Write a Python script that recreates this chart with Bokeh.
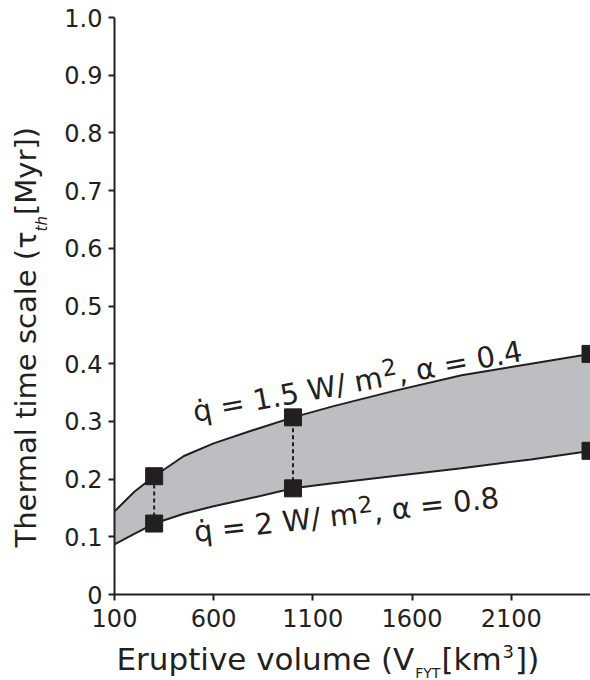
import math
from bokeh.plotting import figure
from bokeh.models import Label, FixedTicker, Range1d
from bokeh.layouts import row, column
from bokeh.embed import file_html
from bokeh.resources import INLINE

# ---- data ----
volume = [100, 200, 300, 450, 600, 800, 1000, 1200, 1500, 1850, 2200, 2500]
tau_upper = [0.144, 0.178, 0.205, 0.240, 0.262, 0.285, 0.307, 0.326, 0.352, 0.380, 0.400, 0.417]
tau_lower = [0.087, 0.105, 0.123, 0.140, 0.153, 0.168, 0.184, 0.193, 0.205, 0.219, 0.234, 0.249]
marker_volume = [300, 1000, 2500]
marker_upper = [0.205, 0.307, 0.417]
marker_lower = [0.123, 0.184, 0.249]
x_ticks = [100, 600, 1100, 1600, 2100]
y_ticks = [0, 0.1, 0.2, 0.3, 0.4, 0.5, 0.6, 0.7, 0.8, 0.9, 1.0]
y_tick_labels = ["0", "0.1", "0.2", "0.3", "0.4", "0.5", "0.6", "0.7", "0.8", "0.9", "1.0"]

INK = "#231f20"
BAND = "#bdbec1"
FONT = "DejaVu Sans"

# overall page geometry (pixels)
PAGE_W, PAGE_H = 590, 680
YT_W = 50             # strip on the left for the y title
XT_H = 40             # strip at the bottom for the x title
FL, FR, FT, FB = 114, 590, 17, 594   # plot frame in page pixels
X0, X1 = 100, 2500
Y0, Y1 = 0.0, 1.0
BASE_FIX = 0.43       # label anchor -> baseline correction, in em

main_w = PAGE_W - YT_W
main_h = PAGE_H - XT_H

p = figure(width=main_w, height=main_h, x_range=Range1d(X0, X1), y_range=Range1d(Y0, Y1),
           output_backend="svg", toolbar_location=None, title=None,
           min_border_left=FL - YT_W, min_border_right=PAGE_W - FR,
           min_border_top=FT, min_border_bottom=main_h - FB)
p.outline_line_color = None
p.grid.visible = False

p.varea(x=volume, y1=tau_lower, y2=tau_upper, fill_color=BAND)
p.line(volume, tau_upper, line_color=INK, line_width=2)
p.line(volume, tau_lower, line_color=INK, line_width=2)
p.segment(x0=marker_volume[:2], y0=marker_lower[:2], x1=marker_volume[:2], y1=marker_upper[:2],
          line_color=INK, line_width=2, line_dash="4 3")
p.scatter(marker_volume + marker_volume, marker_upper + marker_lower, marker="square",
          size=17, fill_color=INK, line_color=INK)

for ax in (p.xaxis[0], p.yaxis[0]):
    ax.axis_line_width = 2
    ax.axis_line_color = INK
    ax.major_tick_line_width = 2
    ax.major_tick_line_color = INK
    ax.major_tick_out = 6
    ax.major_tick_in = 0
    ax.minor_tick_out = 0
    ax.minor_tick_in = 0
    ax.major_label_text_font = FONT
    ax.major_label_text_font_size = "24px"
    ax.major_label_text_color = INK
p.xaxis.ticker = FixedTicker(ticks=x_ticks, minor_ticks=[])
p.yaxis.ticker = FixedTicker(ticks=y_ticks, minor_ticks=[])
p.yaxis.major_label_overrides = dict(zip(y_ticks, y_tick_labels))
p.xaxis.major_label_standoff = 8
p.yaxis.major_label_standoff = 6


def text_fig(w, h, left=0):
    # frame spans [left, w] x [0, h] in local pixels; data units == local pixels
    f = figure(width=w, height=h, x_range=Range1d(left, w), y_range=Range1d(h, 0),
               output_backend="svg", toolbar_location=None, title=None,
               x_axis_type=None, y_axis_type=None,
               min_border_left=left, min_border_right=0, min_border_top=0, min_border_bottom=0)
    f.outline_line_color = None
    f.grid.visible = False
    return f


yfig = text_fig(YT_W, PAGE_H)
xfig = text_fig(main_w, XT_H, left=FL - YT_W)

# ---- text helpers ----
ADV = {" ": 0.318, "(": 0.390, ")": 0.390, ",": 0.318, ".": 0.318, "/": 0.337, "=": 0.838,
       "[": 0.390, "]": 0.390, "E": 0.632, "F": 0.575, "M": 0.863, "T": 0.611, "V": 0.684,
       "W": 0.989, "Y": 0.611, "a": 0.613, "c": 0.550, "e": 0.615, "h": 0.634, "i": 0.278,
       "k": 0.579, "l": 0.278, "m": 0.974, "o": 0.612, "p": 0.635, "q": 0.635, "r": 0.411,
       "s": 0.521, "t": 0.392, "u": 0.634, "v": 0.592, "y": 0.592, "\u03b1": 0.659,
       "\u03c4": 0.583, "\u0307": 0.0}
for d in "0123456789":
    ADV[d] = 0.636


def tw(text, size):
    return sum(ADV.get(c, 0.6) for c in text) * size


def main_map(sx, sy):
    return (X0 + (sx - FL) / (FR - FL) * (X1 - X0), Y0 + (FB - sy) / (FB - FT) * (Y1 - Y0))


def yfig_map(sx, sy):
    return (sx, sy)


def xfig_map(sx, sy):
    return (sx - YT_W, sy - main_h)


def chain(fig, to_data, sx, sy, angle_deg, pieces):
    a = math.radians(angle_deg)
    d = 0.0
    for text, size, rise, italic, gap in pieces:
        r = rise + BASE_FIX * size
        px = sx + d * math.cos(a) - r * math.sin(a)
        py = sy - d * math.sin(a) - r * math.cos(a)
        x, y = to_data(px, py)
        fig.add_layout(Label(x=x, y=y, text=text, angle=a,
                             text_font=FONT, text_font_size=f"{size}px",
                             text_font_style="italic" if italic else "normal",
                             text_color=INK, text_align="left", text_baseline="alphabetic"))
        d += tw(text, size) + gap


# curve labels
chain(p, main_map, 195, 424, 10.6, [("q\u0307 = 1.5 W/ m", 29, 0, False, 1),
                                    ("2", 23, 11, False, 0),
                                    (", \u03b1 = 0.4", 29, 0, False, 0)])
chain(p, main_map, 195, 544, 6.5, [("q\u0307 = 2 W/ m", 29, 0, False, 1),
                                   ("2", 23, 11, False, 0),
                                   (", \u03b1 =  0.8", 29, 0, False, 0)])

# x axis title
chain(xfig, xfig_map, 116, 672, 0, [("Eruptive volume (V", 31, 0, False, 1),
                                    ("FYT", 14, -7, False, 1),
                                    ("[km", 31, 0, False, 1),
                                    ("3", 18, 13, False, 1),
                                    ("])", 31, 0, False, 0)])
# y axis title
chain(yfig, yfig_map, 38, 547, 90, [("Thermal time scale (\u03c4", 29, 0, False, 0),
                                    ("th", 15, -10, True, 1),
                                    ("[Myr])", 29, 0, False, 0)])

layout = row(yfig, column(p, xfig, spacing=0), spacing=0)
open("out.html", "w").write(file_html(layout, INLINE))
